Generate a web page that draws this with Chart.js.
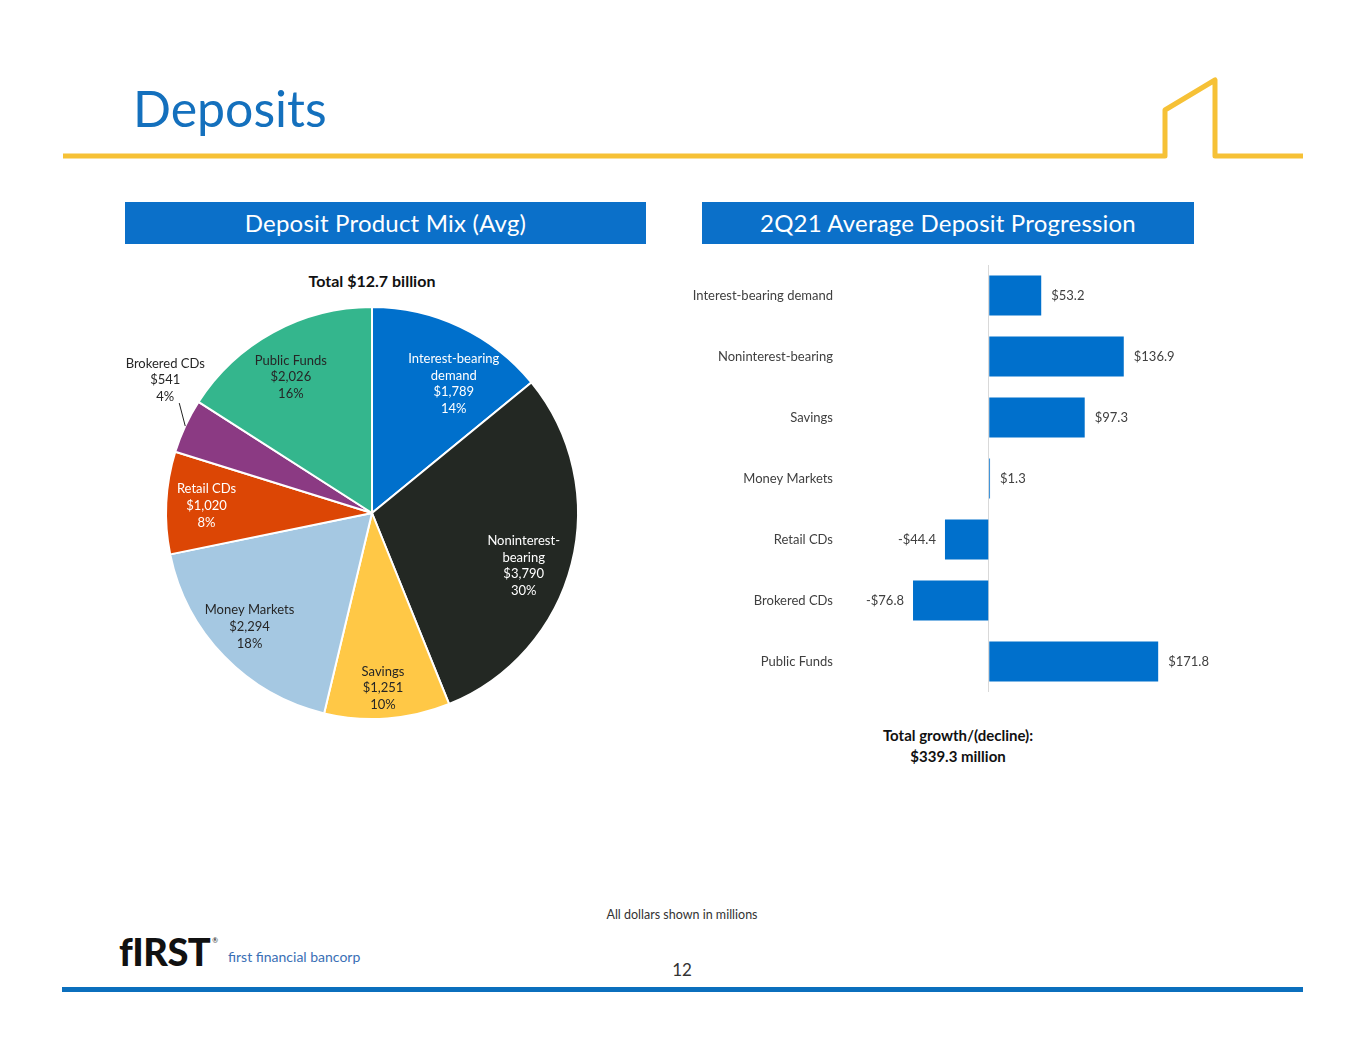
<!DOCTYPE html>
<html lang="en">
<head>
<meta charset="UTF-8">
<title>Deposits</title>
<script src="https://cdn.jsdelivr.net/npm/chart.js"></script>
<style>
    body { margin: 0; background: #fff; font-family: Lato, sans-serif; }
    #slide { position: relative; width: 1365px; height: 1055px; overflow: hidden; }
    .abs { position: absolute; }
    #title { left: 133px; top: 78px; font-size: 50px; color: #1470bd; }
    .hdr { top: 202px; height: 42px; background: #0b70c9; color: #fff; font-size: 24px; line-height: 42px; text-align: center; letter-spacing: 0.2px; }
    #pieTitle { left: 222px; width: 300px; top: 271px; text-align: center; font-weight: bold; font-size: 16px; color: #111; }
    #growth { left: 808px; width: 300px; top: 725px; text-align: center; font-weight: bold; font-size: 15px; line-height: 21px; color: #111; }
    #note { left: 482px; width: 400px; top: 907px; text-align: center; font-size: 12.5px; color: #333; }
    #page { left: 632px; width: 100px; top: 959px; text-align: center; font-size: 17px; color: #333; }
    #logo { left: 119px; top: 928px; font-size: 38px; font-weight: 900; color: #111; letter-spacing: -0.5px; }
    #logo sup { font-size: 7px; font-weight: normal; vertical-align: top; position: relative; top: 8px; left: 2px; }
    #bank { left: 228px; top: 948px; font-size: 14px; color: #3a6fb5; }
    #bottomBar { left: 62px; top: 987px; width: 1241px; height: 5px; background: #0b6fbd; }
</style>
</head>
<body>
<div id="slide">
    <div id="title" class="abs">Deposits</div>
    <svg class="abs" style="left:0;top:0" width="1365" height="200">
        <polyline points="63,156 1165,156 1165,110 1215,80 1215,156 1303,156"
                  fill="none" stroke="#f6c136" stroke-width="5" stroke-linejoin="round"/>
    </svg>

    <div class="abs hdr" style="left:125px;width:521px">Deposit Product Mix (Avg)</div>
    <div class="abs hdr" style="left:702px;width:492px">2Q21 Average Deposit Progression</div>

    <div id="pieTitle" class="abs">Total $12.7 billion</div>
    <div class="abs" style="left:100px;top:290px;width:544px;height:446px">
        <canvas id="pieChart"></canvas>
    </div>

    <div class="abs" style="left:660px;top:265px;width:560px;height:427px">
        <canvas id="barChart"></canvas>
    </div>
    <div id="growth" class="abs">Total growth/(decline):<br>$339.3 million</div>

    <div id="note" class="abs">All dollars shown in millions</div>
    <div id="logo" class="abs">fIRST<sup>®</sup></div>
    <div id="bank" class="abs">first financial bancorp</div>
    <div id="page" class="abs">12</div>
    <div id="bottomBar" class="abs"></div>
</div>

<script>
    // pie: deposit product mix (avg, $ millions)
    const pieCategories = ['Interest-bearing demand', 'Noninterest-bearing', 'Savings', 'Money Markets', 'Retail CDs', 'Brokered CDs', 'Public Funds'];
    const pieValues = [1789, 3790, 1251, 2294, 1020, 541, 2026];
    const pieLabelLines = [['Interest-bearing', 'demand'], ['Noninterest-', 'bearing'], ['Savings'], ['Money Markets'], ['Retail CDs'], ['Brokered CDs'], ['Public Funds']];
    const pieColors = ['#0070cc', '#232823', '#ffc846', '#a5c8e2', '#dc4605', '#8b3a83', '#34b68d'];
    const pieTextColors = ['#ffffff', '#ffffff', '#262626', '#262626', '#ffffff', '#262626', '#262626'];

    // bars: 2Q21 average deposit progression ($ millions)
    const barCategories = ['Interest-bearing demand', 'Noninterest-bearing', 'Savings', 'Money Markets', 'Retail CDs', 'Brokered CDs', 'Public Funds'];
    const barValues = [53.2, 136.9, 97.3, 1.3, -44.4, -76.8, 171.8];

    // small nudges so the labels sit where the slide puts them
    const labelNudge = [[13, 16], [-4, 13], [-1, 15], [-7, 2], [-5, 1], [0, 0], [-4, 5]];

    const pieLabelPlugin = {
        id: 'pieLabels',
        afterDatasetsDraw(chart) {
            const ctx = chart.ctx;
            const total = pieValues.reduce((a, b) => a + b, 0);
            const lh = 16.7;
            ctx.save();
            ctx.font = '13px Lato';
            ctx.textAlign = 'center';
            ctx.textBaseline = 'middle';
            chart.getDatasetMeta(0).data.forEach((arc, i) => {
                const mid = (arc.startAngle + arc.endAngle) / 2;
                const R = arc.outerRadius;
                const share = pieValues[i] / total;
                const lines = pieLabelLines[i].concat(['$' + pieValues[i].toLocaleString('en-US'), Math.round(share * 100) + '%']);
                let x, y;
                if (share < 0.05) {
                    // small slice: label outside with a leader line
                    const ex = arc.x + Math.cos(mid) * R;
                    const ey = arc.y + Math.sin(mid) * R;
                    ctx.strokeStyle = '#222';
                    ctx.lineWidth = 1;
                    ctx.beginPath();
                    ctx.moveTo(ex, ey);
                    ctx.lineTo(ex - 6, ey - 23);
                    ctx.stroke();
                    x = ex - 20;
                    y = ey - 46;
                } else {
                    x = arc.x + Math.cos(mid) * R * 0.78 + labelNudge[i][0];
                    y = arc.y + Math.sin(mid) * R * 0.78 + labelNudge[i][1];
                }
                ctx.fillStyle = pieTextColors[i];
                const y0 = y - (lines.length - 1) * lh / 2;
                lines.forEach((t, k) => ctx.fillText(t, x, y0 + k * lh));
            });
            ctx.restore();
        }
    };

    const barLabelPlugin = {
        id: 'barLabels',
        afterDatasetsDraw(chart) {
            const ctx = chart.ctx;
            ctx.save();
            ctx.font = '13px Lato';
            ctx.fillStyle = '#404040';
            ctx.textBaseline = 'middle';
            chart.getDatasetMeta(0).data.forEach((bar, i) => {
                const v = barValues[i];
                if (v >= 0) {
                    ctx.textAlign = 'left';
                    ctx.fillText('$' + v.toFixed(1), bar.x + 10, bar.y);
                } else {
                    ctx.textAlign = 'right';
                    ctx.fillText('-$' + Math.abs(v).toFixed(1), bar.x - 9, bar.y);
                }
            });
            ctx.restore();
        }
    };

    new Chart(document.getElementById('pieChart'), {
        type: 'pie',
        data: {
            labels: pieCategories,
            datasets: [{
                data: pieValues,
                backgroundColor: pieColors,
                borderColor: '#ffffff',
                borderWidth: 2
            }]
        },
        options: {
            responsive: true,
            maintainAspectRatio: false,
            animation: false,
            layout: { padding: 16 },
            plugins: { legend: { display: false }, tooltip: { enabled: false } }
        },
        plugins: [pieLabelPlugin]
    });

    new Chart(document.getElementById('barChart'), {
        type: 'bar',
        data: {
            labels: barCategories,
            datasets: [{
                data: barValues,
                backgroundColor: '#0070cc',
                categoryPercentage: 1,
                barPercentage: 0.655
            }]
        },
        options: {
            indexAxis: 'y',
            responsive: true,
            maintainAspectRatio: false,
            animation: false,
            layout: { padding: { left: 0, right: 34, top: 0, bottom: 0 } },
            scales: {
                x: {
                    min: -90,
                    max: 200,
                    afterBuildTicks: s => { s.ticks = [{ value: 0 }]; },
                    ticks: { display: false },
                    grid: { color: '#d9d9d9', drawTicks: false, lineWidth: 1 },
                    border: { display: false }
                },
                y: {
                    // fixed label column; drop the tick padding that v4 adds above/below
                    afterFit: s => { s.width = 240; s.paddingTop = 0; s.paddingBottom = 0; },
                    ticks: { color: '#404040', font: { family: 'Lato', size: 13 }, padding: 67 },
                    grid: { display: false, drawTicks: false },
                    border: { display: false }
                }
            },
            plugins: { legend: { display: false }, tooltip: { enabled: false } }
        },
        plugins: [barLabelPlugin]
    });
</script>
</body>
</html>
